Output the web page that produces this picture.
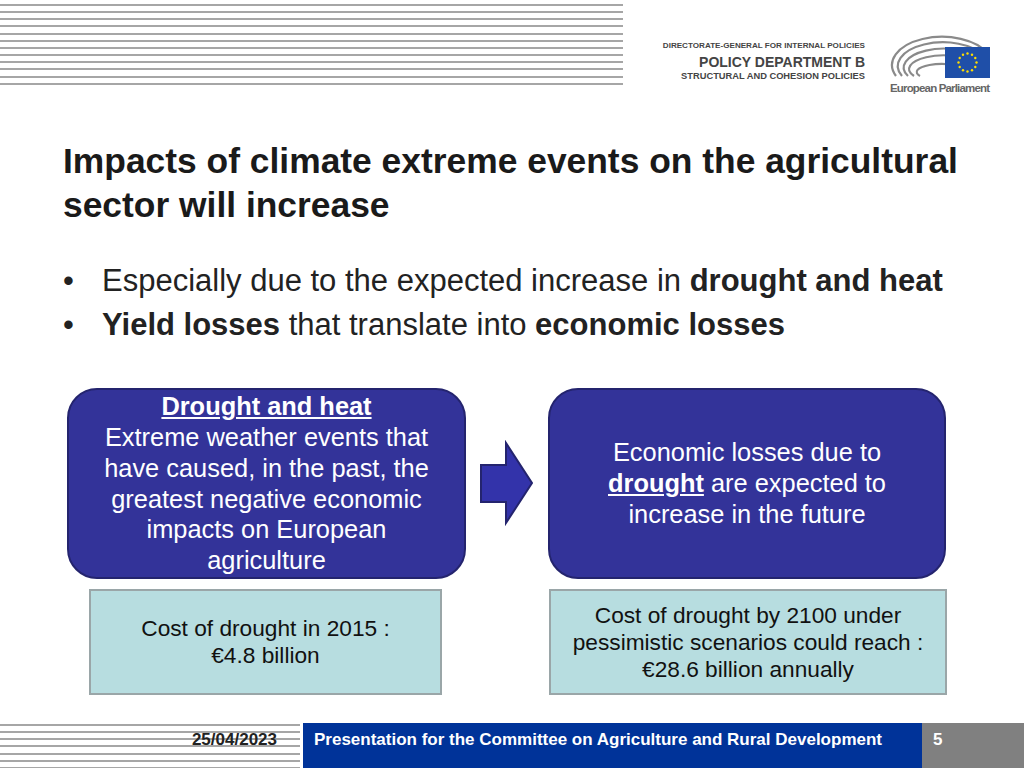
<!DOCTYPE html>
<html>
<head>
<meta charset="utf-8">
<script src="https://cdn.jsdelivr.net/npm/chart.js@4.4.0/dist/chart.umd.min.js"></script>
<style>
  html, body { margin: 0; padding: 0; background: #fff; }
  body { width: 1024px; height: 768px; position: relative; overflow: hidden;
         font-family: "Liberation Sans", Arial, sans-serif; }
  .abs { position: absolute; }
  .stripes { background: repeating-linear-gradient(to bottom, #fff 0px, #fff 4px, #a6a6a6 4px, #a6a6a6 6px, #fff 6px, #fff 7.15px); }
  .title { left: 63px; top: 139px; font-size: 35.4px; font-weight: bold; color: #1a1a1a; line-height: 44px; white-space: nowrap; }
  .bullets { left: 63px; top: 259px; font-size: 31px; color: #222; line-height: 44px; white-space: nowrap; }
  .bullets .dot { display: inline-block; width: 39px; }
  .box { background: #333399; border: 2px solid #24246e; border-radius: 30px; color: #fff;
         font-size: 25.4px; line-height: 30.7px; text-align: center; box-sizing: border-box;
         display: flex; flex-direction: column; justify-content: center; white-space: nowrap; }
  .light { background: #b7dde0; border: 2px solid #9aa6a8; color: #111; font-size: 22.7px; line-height: 27px;
           text-align: center; box-sizing: border-box; display: flex; flex-direction: column; justify-content: center; white-space: nowrap; }
  .foot { font-weight: bold; font-size: 17px; white-space: nowrap; }
  .logo { right: 159px; font-weight: bold; color: #444; white-space: nowrap; }
</style>
</head>
<body>
<div class="abs stripes" style="left:0;top:0;width:623px;height:86px;"></div>

<div class="abs logo" style="top:41px;font-size:8.1px;">DIRECTORATE-GENERAL FOR INTERNAL POLICIES</div>
<div class="abs logo" style="top:54px;font-size:14px;">POLICY DEPARTMENT B</div>
<div class="abs logo" style="top:71px;font-size:9.3px;">STRUCTURAL AND COHESION POLICIES</div>
<svg class="abs" style="left:888px;top:30px;" width="110" height="66" viewBox="0 0 110 66">
  <g fill="none" stroke="#8a8a8a" stroke-width="2.2">
    <path d="M8 46 A46 26 0 0 1 100 24"/>
    <path d="M14 46 A40 21 0 0 1 96 26"/>
    <path d="M20 46 A34 16 0 0 1 92 29"/>
    <path d="M26 46 A28 11 0 0 1 86 32"/>
    <path d="M32 46 A22 7 0 0 1 76 38"/>
  </g>
  <rect x="57" y="17" width="45" height="31" fill="#1f4fa8"/>
  <g id="stars" fill="#ffdd00"></g>
  <text x="2" y="62" font-family="Liberation Sans Narrow, Liberation Sans, Arial" font-weight="bold" font-size="11.5" fill="#666" textLength="100">European Parliament</text>
</svg>

<div class="abs title">Impacts of climate extreme events on the agricultural<br>sector will increase</div>
<div class="abs bullets">
  <div><span class="dot">•</span>Especially due to the expected increase in <b>drought and heat</b></div>
  <div><span class="dot">•</span><b>Yield losses</b> that translate into <b>economic losses</b></div>
</div>

<div class="abs box" style="left:67px;top:388px;width:399px;height:191px;">
  <div><b><u>Drought and heat</u></b></div>
  <div>Extreme weather events that<br>have caused, in the past, the<br>greatest negative economic<br>impacts on European<br>agriculture</div>
</div>
<svg class="abs" style="left:478px;top:440px;" width="58" height="88">
  <polygon points="3,25 28,25 28,3 54,43 28,83 28,62 3,62" fill="#3333aa" stroke="#24246e" stroke-width="2"/>
</svg>
<div class="abs box" style="left:548px;top:388px;width:398px;height:191px;">
  <div>Economic losses due to<br><b><u>drought</u></b> are expected to<br>increase in the future</div>
</div>

<div class="abs light" id="cost1" style="left:89px;top:589px;width:353px;height:106px;"></div>
<div class="abs light" id="cost2" style="left:549px;top:589px;width:398px;height:106px;"></div>

<div class="abs stripes" style="left:0;top:720px;width:300px;height:48px;"></div>
<div class="abs foot" style="right:747px;top:730px;color:#222;">25/04/2023</div>
<div class="abs" style="left:303px;top:723px;width:619px;height:45px;background:#003399;"></div>
<div class="abs foot" style="left:314px;top:730px;color:#fff;">Presentation for the Committee on Agriculture and Rural Development</div>
<div class="abs" style="left:922px;top:723px;width:102px;height:45px;background:#808080;"></div>
<div class="abs foot" id="pageNo" style="left:933px;top:730px;color:#fff;"></div>

<script>
// values shown in the two cost boxes
const costYears = [2015, 2100];
const costValues = [4.8, 28.6]; // billion EUR
const pageNumber = 5;

document.getElementById("cost1").innerHTML =
  "Cost of drought in " + costYears[0] + " :<br>€" + costValues[0] + " billion";
document.getElementById("cost2").innerHTML =
  "Cost of drought by " + costYears[1] + " under<br>pessimistic scenarios could reach :<br>€" +
  costValues[1] + " billion annually";
document.getElementById("pageNo").textContent = pageNumber;

// EU flag stars
const stars = document.getElementById("stars");
for (let i = 0; i < 12; i++) {
  const a = (i / 12) * Math.PI * 2;
  const c = document.createElementNS("http://www.w3.org/2000/svg", "circle");
  c.setAttribute("cx", 79.5 + Math.cos(a) * 9);
  c.setAttribute("cy", 32.5 + Math.sin(a) * 9);
  c.setAttribute("r", 1.2);
  stars.appendChild(c);
}
</script>
</body>
</html>
